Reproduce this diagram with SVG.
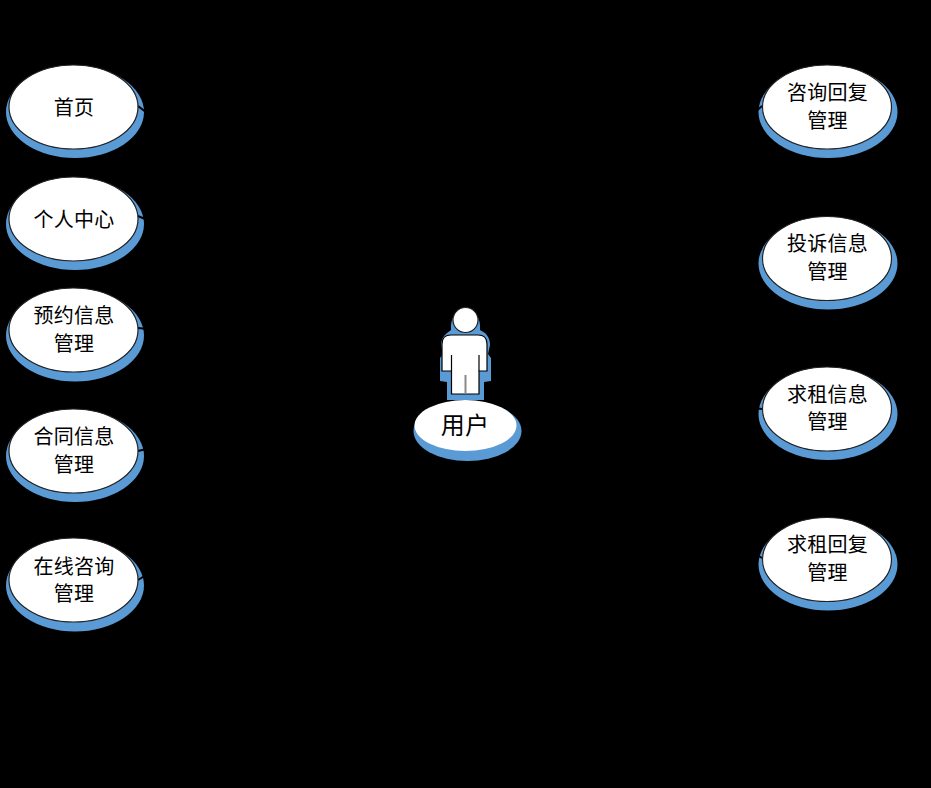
<svg xmlns="http://www.w3.org/2000/svg" width="931" height="788" viewBox="0 0 931 788">
<style>
.bg{fill:#000}
.sh{fill:#5b9bd5}
.uc{fill:#fff;stroke:#222;stroke-width:1.2}
.link{stroke:#000;stroke-width:2;fill:none}
text{font-family:"Noto Sans CJK SC","Liberation Sans",sans-serif;font-size:20px;fill:#000;text-anchor:middle;letter-spacing:.3px}
</style>
<rect class="bg" width="931" height="788"/>
<g id="shadows-left">
<ellipse class="sh" cx="75" cy="112" rx="69" ry="46"/>
<ellipse class="sh" cx="75" cy="224" rx="69" ry="46"/>
<ellipse class="sh" cx="75" cy="335.500" rx="69" ry="46"/>
<ellipse class="sh" cx="75" cy="456" rx="69" ry="46"/>
<ellipse class="sh" cx="75" cy="585.500" rx="69" ry="46"/>
</g>
<g id="shadows-right">
<ellipse class="sh" cx="828" cy="112" rx="69.500" ry="46"/>
<ellipse class="sh" cx="828" cy="263.500" rx="69.500" ry="46"/>
<ellipse class="sh" cx="828" cy="414" rx="69.500" ry="46"/>
<ellipse class="sh" cx="828" cy="564.500" rx="69.500" ry="46"/>
</g>
<g id="connectors">
<path class="link" d="M138 106L440 340"/>
<path class="link" d="M138 216L440 345"/>
<path class="link" d="M138 328L440 360"/>
<path class="link" d="M138 451L440 380"/>
<path class="link" d="M138 580L440 395"/>
<path class="link" d="M762 106L490 340"/>
<path class="link" d="M762 249L490 350"/>
<path class="link" d="M762 409L490 375"/>
<path class="link" d="M762 558L490 395"/>
</g>
<g id="actor">
<path class="sh" d="M441 345Q441 338 447 333L451 330Q450 311 465.500 311Q481 311 480 330L485 333Q490 338 490 345L488 354L491 358V381L484 382V400H447V382L440 381V358L443 354Z"/>
<circle cx="465.500" cy="320" r="12.500" fill="#fff" stroke="#222" stroke-width="1.2"/>
<path d="M442 344Q442 335 451 335H478Q487 335 487 344V371H479V394H451.500V371H442Z" fill="#fff" stroke="#000" stroke-width="1.2"/>
<path d="M451.500 355V371M479 355V371" stroke="#000" stroke-width="1.2" fill="none"/>
<path d="M465.500 375V394" stroke="#888" stroke-width="2"/>
<ellipse class="sh" cx="467.500" cy="431" rx="54" ry="30"/>
<ellipse cx="465.500" cy="425.500" rx="51" ry="25.500" fill="#fff"/>
<text x="465" y="434" style="font-size:24px">用户</text>
</g>
<g id="node-home"><ellipse class="uc" cx="73.500" cy="107" rx="64.500" ry="42"/><text x="74" y="115">首页</text></g>
<g id="node-personal"><ellipse class="uc" cx="73.500" cy="219" rx="64.500" ry="42"/><text x="74" y="227">个人中心</text></g>
<g id="node-booking"><ellipse class="uc" cx="73.500" cy="330" rx="64.500" ry="42"/><text x="74" y="323">预约信息</text><text x="74" y="351">管理</text></g>
<g id="node-contract"><ellipse class="uc" cx="73.500" cy="451" rx="64.500" ry="42"/><text x="74" y="444">合同信息</text><text x="74" y="472">管理</text></g>
<g id="node-online"><ellipse class="uc" cx="73.500" cy="580" rx="64.500" ry="42"/><text x="74" y="574">在线咨询</text><text x="74" y="601">管理</text></g>
<g id="node-reply"><ellipse class="uc" cx="827" cy="107" rx="64.500" ry="42"/><text x="827.500" y="100">咨询回复</text><text x="827.500" y="128">管理</text></g>
<g id="node-complaint"><ellipse class="uc" cx="827" cy="258.500" rx="64.500" ry="42"/><text x="827.500" y="251">投诉信息</text><text x="827.500" y="279">管理</text></g>
<g id="node-rent"><ellipse class="uc" cx="827" cy="409" rx="64.500" ry="42"/><text x="827.500" y="402">求租信息</text><text x="827.500" y="429">管理</text></g>
<g id="node-rentreply"><ellipse class="uc" cx="827" cy="559.500" rx="64.500" ry="42"/><text x="827.500" y="552">求租回复</text><text x="827.500" y="580">管理</text></g>
</svg>
